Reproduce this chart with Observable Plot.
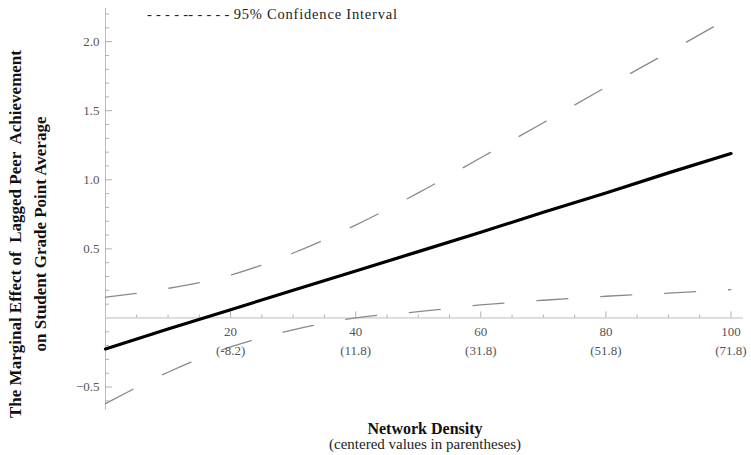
<!DOCTYPE html>
<html>
<head>
<meta charset="utf-8">
<script src="https://cdn.jsdelivr.net/npm/d3@7"></script>
<script src="https://cdn.jsdelivr.net/npm/@observablehq/plot@0.6"></script>
<style>
  html, body { margin: 0; padding: 0; background: #fff; }
  #chart svg { display: block; }
</style>
</head>
<body>
<div id="chart"></div>
<script>
// Network density (x) and marginal effect with 95% CI
const density = [0, 10, 20, 30, 40, 50, 60, 70, 80, 90, 100];
const effect  = [-0.225, -0.08, 0.06, 0.20, 0.34, 0.48, 0.62, 0.765, 0.905, 1.05, 1.19];
const upperCI = [0.15, 0.214, 0.31, 0.47, 0.672, 0.905, 1.16, 1.413, 1.67, 1.923, 2.18];
const lowerCI = [-0.62, -0.393, -0.21, -0.086, 0.0, 0.045, 0.094, 0.128, 0.157, 0.18, 0.205];

// Tick labels
const xTickValues = [20, 40, 60, 80, 100];
const xCentered = ["(-8.2)", "(11.8)", "(31.8)", "(51.8)", "(71.8)"];
const yTickValues = [-0.5, 0.5, 1.0, 1.5, 2.0];
const yTickLabels = ["\u22120.5", "0.5", "1.0", "1.5", "2.0"];

const xMinor = d3.range(5, 101, 5).filter(v => v % 20 !== 0);
const yMinor = d3.range(-6, 23).map(v => v / 10).filter(v => Math.abs(v * 2 - Math.round(v * 2)) > 1e-9);
const yMajor = [-0.5, 0.5, 1.0, 1.5, 2.0];

const rows = density.map((d, i) => ({x: d, effect: effect[i], upper: upperCI[i], lower: lowerCI[i]}));

const axisColor = "#bdbdbd";
const tickColor = "#b0b0b0";
const font = "Liberation Serif, DejaVu Serif, serif";

const chart = Plot.plot({
  width: 751,
  height: 455,
  marginLeft: 105,
  marginRight: 8,
  marginTop: 8,
  marginBottom: 45,
  style: {fontFamily: font, background: "#fff"},
  x: {domain: [0, 102], axis: null},
  y: {domain: [-0.67, 2.24], axis: null},
  marks: [
    // axis lines
    Plot.ruleY([0], {x1: 0, x2: 102, stroke: axisColor, strokeWidth: 1}),
    Plot.ruleX([0], {y1: -0.67, y2: 2.24, stroke: axisColor, strokeWidth: 1}),
    // x ticks (pointing up from y=0)
    Plot.ruleX(xMinor, {y1: 0, y2: 0, insetTop: -3, stroke: tickColor}),
    Plot.ruleX(xTickValues, {y1: 0, y2: 0, insetTop: -6, stroke: tickColor}),
    // y ticks (pointing right from x=0)
    Plot.ruleY(yMinor, {x1: 0, x2: 0, insetRight: -4, stroke: tickColor}),
    Plot.ruleY(yMajor, {x1: 0, x2: 0, insetRight: -7, stroke: tickColor}),
    // confidence interval
    Plot.line(rows, {x: "x", y: "upper", curve: "monotone-x", stroke: "#8a8a8a", strokeWidth: 1.3, strokeDasharray: "31,33"}),
    Plot.line(rows, {x: "x", y: "lower", curve: "monotone-x", stroke: "#8a8a8a", strokeWidth: 1.3, strokeDasharray: "31,33"}),
    // marginal effect
    Plot.line(rows, {x: "x", y: "effect", stroke: "#000", strokeWidth: 3.2}),
    // tick labels
    Plot.text(xTickValues, {x: d => d, y: 0, text: d => String(d), dy: 14, lineAnchor: "middle", fontSize: 13, fontFamily: font, fill: "#555"}),
    Plot.text(xTickValues, {x: d => d, y: 0, text: (d, i) => xCentered[i], dy: 33, lineAnchor: "middle", fontSize: 13, fontFamily: font, fill: "#555"}),
    Plot.text(yTickValues, {x: 0, y: d => d, text: (d, i) => yTickLabels[i], dx: -6, textAnchor: "end", lineAnchor: "middle", fontSize: 13, fontFamily: font, fill: "#555"})
  ]
});

const svg = d3.select(chart);
// Legend
const lg = svg.append("text")
  .attr("x", 147).attr("y", 14)
  .attr("text-anchor", "start")
  .attr("dominant-baseline", "central")
  .attr("font-family", font).attr("font-size", 14.5).attr("fill", "#222");
lg.append("tspan").attr("letter-spacing", 0.3).text("- - - - -- - - - - ");
lg.append("tspan").attr("letter-spacing", 0.8).text("95% Confidence Interval");
// Y title
const yt = svg.append("text")
  .attr("transform", "translate(15,234) rotate(-90)")
  .attr("text-anchor", "middle")
  .attr("font-family", font).attr("font-size", 17).attr("font-weight", "bold").attr("fill", "#111");
yt.append("tspan").attr("x", 0).attr("y", 0).attr("dominant-baseline", "central")
  .text("The Marginal Effect of  Lagged Peer  Achievement");
yt.append("tspan").attr("x", 0).attr("y", 25).attr("dominant-baseline", "central")
  .text("on Student Grade Point Average");
// X title
svg.append("text")
  .attr("x", 425).attr("y", 428).attr("text-anchor", "middle").attr("dominant-baseline", "central")
  .attr("font-family", font).attr("font-size", 16).attr("font-weight", "bold").attr("fill", "#111")
  .text("Network Density");
svg.append("text")
  .attr("x", 425).attr("y", 444).attr("text-anchor", "middle").attr("dominant-baseline", "central")
  .attr("font-family", font).attr("font-size", 15).attr("fill", "#222")
  .text("(centered values in parentheses)");

document.getElementById("chart").appendChild(chart);
</script>
</body>
</html>
